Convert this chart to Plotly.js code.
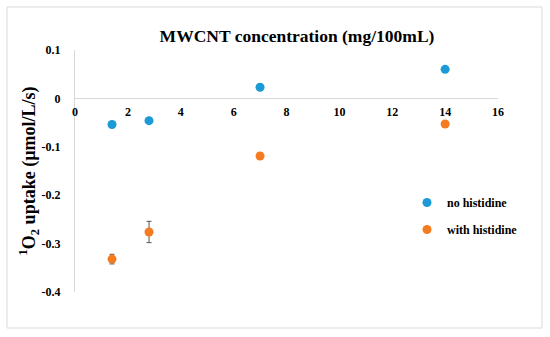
<!DOCTYPE html>
<html>
<head>
<meta charset="utf-8">
<script src="https://cdn.plot.ly/plotly-3.0.1.min.js"></script>
<style>html,body{margin:0;padding:0;background:#fff;}#chart{width:550px;height:337px;}</style>
</head>
<body>
<div id="chart"></div>
<script>
// Data
const concentration = [1.4, 2.8, 7, 14];
const noHistidine = [-0.054, -0.046, 0.023, 0.060];
const withHistidine = [-0.332, -0.276, -0.119, -0.053];
const withHistidineErr = [0.010, 0.022, 0.006, 0.002];
const xTickVals = [0, 2, 4, 6, 8, 10, 12, 14, 16];
const xTickText = ["0", "2", "4", "6", "8", "10", "12", "14", "16"];
const yTickVals = [0.1, 0, -0.1, -0.2, -0.3, -0.4];
const yTickText = ["0.1", "0", "-0.1", "-0.2", "-0.3", "-0.4"];
const seriesNames = ["no histidine", "with histidine"];

const serif = "'Liberation Serif', 'Times New Roman', serif";
const bold = s => "<b>" + s + "</b>";

const traces = [
  {
    type: "scatter", mode: "markers", name: bold(seriesNames[0]),
    x: concentration, y: noHistidine, legendgroup: "a",
    marker: {color: "#1b9ad6", size: 9}
  },
  {
    type: "scatter", mode: "markers", name: bold(seriesNames[1]),
    x: concentration, y: withHistidine, legendgroup: "b",
    marker: {color: "#f47b20", size: 9},
    error_y: {type: "data", array: withHistidineErr, visible: true, color: "#555555", thickness: 1, width: 2.5}
  }
];

const layout = {
  width: 550, height: 337,
  margin: {l: 75, r: 52, t: 50, b: 45},
  paper_bgcolor: "#ffffff", plot_bgcolor: "#ffffff",
  font: {family: serif, color: "#000000"},
  showlegend: true,
  title: {
    text: bold("MWCNT concentration (mg/100mL)"),
    font: {family: serif, size: 17.5, color: "#000000"},
    xref: "container", yref: "container",
    x: 297/550, xanchor: "center",
    y: 1 - 36/337, yanchor: "middle"
  },
  xaxis: {
    range: [0, 16], tickvals: xTickVals, ticktext: xTickText.map(bold),
    anchor: "free", position: 0.8,
    showgrid: false, zeroline: false,
    showline: true, linecolor: "#d9d9d9", linewidth: 1,
    ticks: "", ticklabelstandoff: 2,
    tickfont: {family: serif, size: 12, color: "#000000"},
    fixedrange: true
  },
  yaxis: {
    range: [-0.4, 0.1], tickvals: yTickVals, ticktext: yTickText.map(bold),
    showgrid: false, zeroline: false,
    showline: true, linecolor: "#d9d9d9", linewidth: 1,
    ticks: "", ticklabelstandoff: 11,
    tickfont: {family: serif, size: 12, color: "#000000"},
    title: {
      text: bold("<sup>1</sup>O<sub>2</sub> uptake (µmol/L/s)"),
      font: {family: serif, size: 18, color: "#000000"},
      standoff: 0
    },
    automargin: false,
    fixedrange: true
  },
  legend: {
    x: (407 - 75) / 423, xanchor: "left",
    y: (292 - 188) / 242, yanchor: "top",
    bgcolor: "rgba(0,0,0,0)",
    traceorder: "grouped", tracegroupgap: 8,
    font: {family: serif, size: 12, color: "#000000"}
  },
  shapes: [
    {
      type: "rect", xref: "paper", yref: "paper",
      x0: (7 - 75) / 423, x1: (542 - 75) / 423,
      y0: (292 - 328) / 242, y1: (292 - 7) / 242,
      line: {color: "#d9d9d9", width: 1}, layer: "below"
    }
  ]
};

Plotly.newPlot("chart", traces, layout, {displayModeBar: false, staticPlot: true});
</script>
</body>
</html>
